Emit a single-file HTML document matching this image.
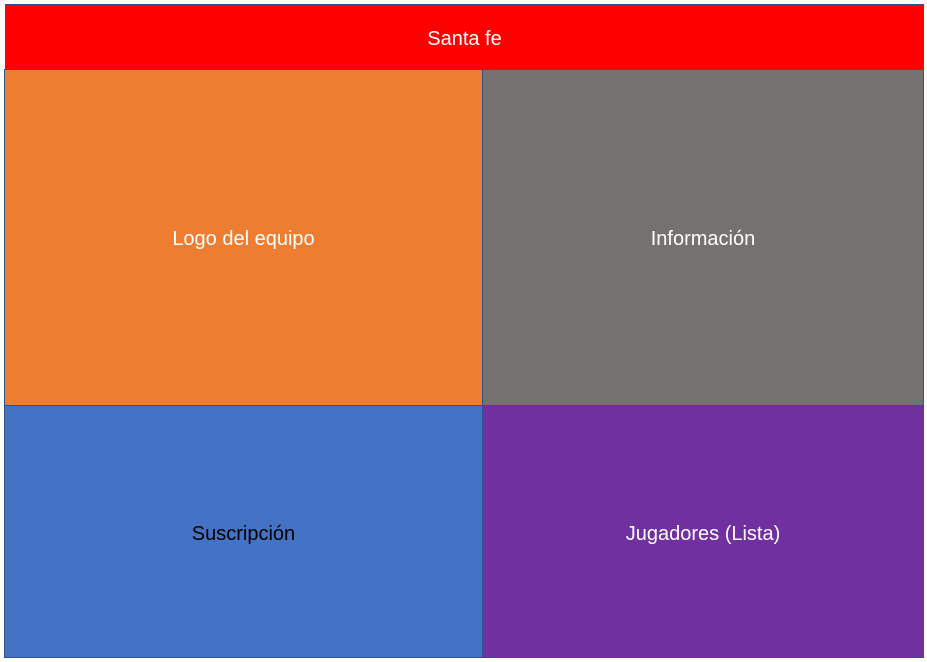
<!DOCTYPE html>
<html><head><style>
body{margin:0;width:927px;height:662px;background:#fff;position:relative;overflow:hidden;font-family:"Liberation Sans",sans-serif;}
.b{position:absolute;box-sizing:border-box;border:1px solid #2f528f;display:flex;align-items:center;justify-content:center;font-size:20px;color:#fff;padding-top:4px;}
</style></head><body>
<div class="b" style="left:5px;top:4px;width:919px;height:66px;background:#ff0000;">Santa fe</div>
<div class="b" style="left:4px;top:69px;width:479px;height:337px;background:#ed7d31;">Logo del equipo</div>
<div class="b" style="left:482px;top:69px;width:442px;height:337px;background:#767171;">Información</div>
<div class="b" style="left:4px;top:405px;width:479px;height:253px;background:#4472c4;color:#000;padding-top:6px;">Suscripción</div>
<div class="b" style="left:482px;top:405px;width:442px;height:253px;background:#7030a0;padding-top:6px;">Jugadores (Lista)</div>
</body></html>
